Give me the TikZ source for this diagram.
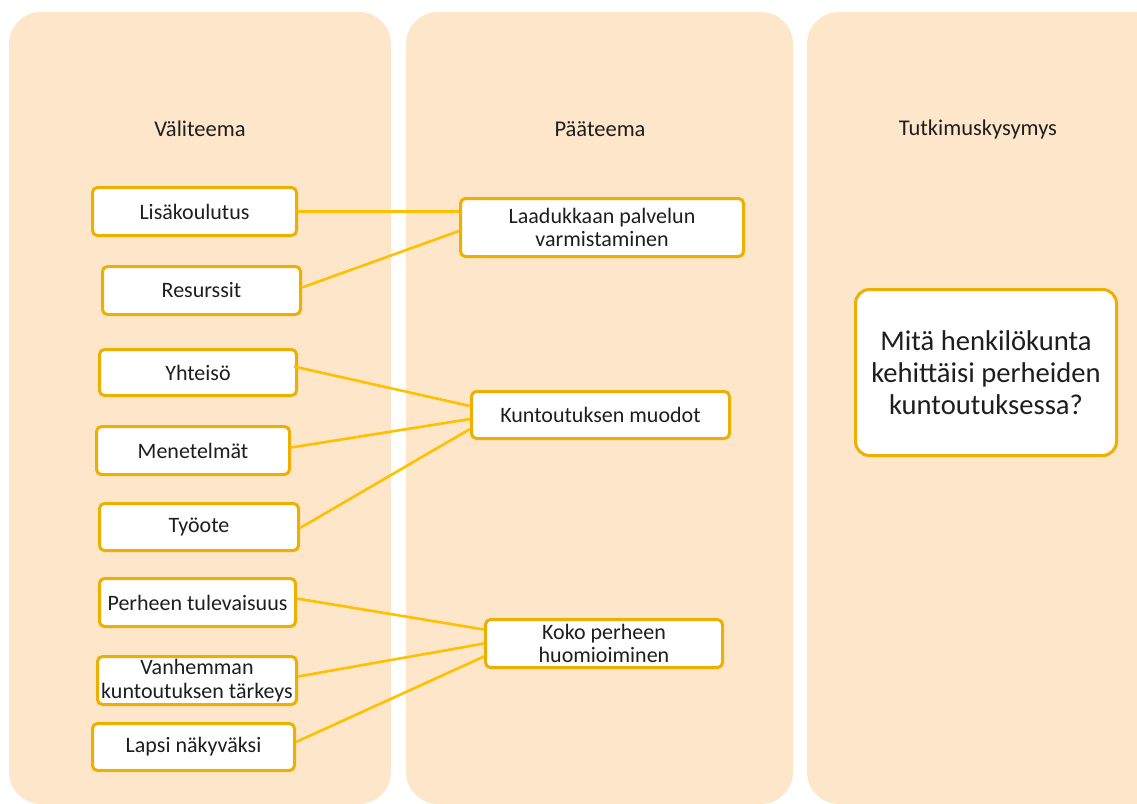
\documentclass[tikz,border=0pt]{standalone}
\usepackage{fontspec}
\setmainfont{Carlito}
\usetikzlibrary{calc}
\definecolor{panelfill}{RGB}{254,230,202}
\definecolor{boxedge}{RGB}{237,176,0}
\definecolor{linkcol}{RGB}{255,192,0}
\definecolor{ink}{RGB}{30,30,30}
\tikzset{
  panel/.style={fill=panelfill, draw=none, rounded corners=32pt},
  header/.style={text=ink, font=\fontsize{22.5}{26}\selectfont, anchor=center},
  theme/.style={draw=boxedge, line width=3pt, fill=white, rounded corners=5pt,
    text=ink, align=center, inner sep=0pt, font=\fontsize{22}{23.5}\selectfont},
  question/.style={theme, rounded corners=14pt, font=\fontsize{28.6}{32}\selectfont},
  link/.style={draw=linkcol, line width=2.6pt}
}
\begin{document}
\begin{tikzpicture}[x=1pt,y=-1pt]
\useasboundingbox (0,0) rectangle (1137,803);
\clip (0,0) rectangle (1137,803);
% background columns
\path[panel] (9,12) rectangle (391,804);
\path[panel] (406,12) rectangle (793,804);
\path[panel] (807,12) rectangle (1190,804);
% column headings
\node[header] (h1) at (200,129) {Väliteema};
\node[header] (h2) at (600,129) {Pääteema};
\node[header] (h3) at (978,129) {Tutkimuskysymys};
% sub-themes
\node[theme, minimum width=204pt, minimum height=48pt] (lisa) at (194.5,211.5) {Lisäkoulutus};
\node[theme, minimum width=198pt, minimum height=48pt] (res) at (201.5,290.5) {Resurssit};
\node[theme, minimum width=197pt, minimum height=46pt] (yht) at (198,372.5) {Yhteisö};
\node[theme, minimum width=193pt, minimum height=48pt] (men) at (193,450.5) {Menetelmät};
\node[theme, minimum width=199pt, minimum height=47pt] (tyo) at (199,527) {Työote};
\node[theme, minimum width=196pt, minimum height=48pt] (per) at (197.5,602.5) {Perheen tulevaisuus};
\node[theme, minimum width=199pt, minimum height=48pt] (van) at (197,680.5) {Vanhemman\\kuntoutuksen tärkeys};
\node[theme, minimum width=202pt, minimum height=47pt] (lap) at (193.5,747) {Lapsi näkyväksi};
% main themes
\node[theme, minimum width=283pt, minimum height=58pt] (laa) at (602,227.5) {Laadukkaan palvelun\\varmistaminen};
\node[theme, minimum width=258pt, minimum height=47pt] (kun) at (600.5,415) {Kuntoutuksen muodot};
\node[theme, minimum width=237pt, minimum height=48pt] (kok) at (604,643.5) {Koko perheen\\huomioiminen};
% research question
\node[question, minimum width=261pt, minimum height=166pt] (q) at (986,372.5) {Mitä henkilökunta\\kehittäisi perheiden\\kuntoutuksessa?};
% connectors (yshift is in page units: positive moves up)
\draw[link] (lisa.east) -- (lisa.east -| laa.west);
\draw[link] ([yshift=3pt]res.east) -- ([yshift=-3.5pt]laa.west);
\draw[link] ([xshift=-4pt,yshift=6pt]yht.east) -- ([yshift=9pt]kun.west);
\draw[link] ([yshift=3pt]men.east) -- ([yshift=-4pt]kun.west);
\draw[link] ([yshift=-1pt]tyo.east) -- ([yshift=-14pt]kun.west);
\draw[link] ([yshift=4pt]per.east) -- ([yshift=14pt]kok.west);
\draw[link] ([yshift=4pt]van.east) -- ([yshift=0pt]kok.west);
\draw[link] ([yshift=5pt]lap.east) -- ([yshift=-13pt]kok.west);
\end{tikzpicture}
\end{document}
